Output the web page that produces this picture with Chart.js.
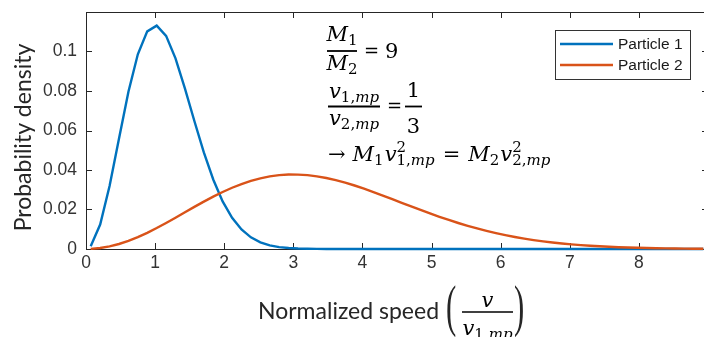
<!DOCTYPE html>
<html>
<head>
<meta charset="utf-8">
<script src="https://cdn.jsdelivr.net/npm/chart.js@4.4.0/dist/chart.umd.min.js"></script>
<style>
  html, body { margin: 0; padding: 0; overflow: hidden; background: #fff; }
  canvas { display: block; }
</style>
</head>
<body>
<canvas id="speed_chart" width="708" height="337"></canvas>
<script>
// normalized speed v / v1,mp (bin centres)
const speed = [
  0.068, 0.205, 0.341, 0.477, 0.614, 0.75, 0.886, 1.023, 1.159, 1.295,
  1.432, 1.568, 1.705, 1.841, 1.977, 2.114, 2.25, 2.386, 2.523, 2.659,
  2.795, 2.932, 3.068, 3.205, 3.341, 3.477, 3.614, 3.75, 3.886, 4.023,
  4.159, 4.295, 4.432, 4.568, 4.705, 4.841, 4.977, 5.114, 5.25, 5.386,
  5.523, 5.659, 5.795, 5.932, 6.068, 6.205, 6.341, 6.477, 6.614, 6.75,
  6.886, 7.023, 7.159, 7.295, 7.432, 7.568, 7.705, 7.841, 7.977, 8.114,
  8.25, 8.386, 8.523, 8.659, 8.795, 8.932
];
const particle1 = [
  0.00143, 0.0124, 0.0319, 0.0558, 0.0796, 0.0986, 0.1102, 0.1131, 0.1079, 0.0965,
  0.0812, 0.0648, 0.0489, 0.0352, 0.0241, 0.0158, 0.00986, 0.0059, 0.00337, 0.00185,
  0.00097, 0.00049, 0.00024, 0.00011, 0.00005, 0.00002, 0, 0, 0, 0,
  0, 0, 0, 0, 0, 0, 0, 0, 0, 0,
  0, 0, 0, 0, 0, 0, 0, 0, 0, 0,
  0, 0, 0, 0, 0, 0, 0, 0, 0, 0,
  0, 0, 0, 0, 0, 0
];
const particle2 = [
  0.00005, 0.00048, 0.00131, 0.00253, 0.00412, 0.00602, 0.0082, 0.01062, 0.01319, 0.01586,
  0.01861, 0.02133, 0.02399, 0.02651, 0.02886, 0.03101, 0.03288, 0.03448, 0.03579, 0.03676,
  0.03739, 0.0377, 0.03768, 0.0374, 0.0368, 0.03596, 0.03488, 0.0336, 0.03215, 0.03055,
  0.02885, 0.02708, 0.02525, 0.02341, 0.02157, 0.01977, 0.01801, 0.01631, 0.01469, 0.01317,
  0.01173, 0.0104, 0.00917, 0.00804, 0.00702, 0.00609, 0.00526, 0.00452, 0.00386, 0.00329,
  0.00278, 0.00234, 0.00197, 0.00164, 0.00136, 0.00112, 0.00092, 0.00076, 0.00062, 0.0005,
  0.0004, 0.00032, 0.00026, 0.00021, 0.00016, 0.00013
];
const seriesNames = ['Particle 1', 'Particle 2'];
const seriesColors = ['#0072BD', '#D95319'];

const AXIS = '#262626';
const TICK_FONT = '"Liberation Sans", Arial, sans-serif';
const TITLE_FONT = 'Lato, "Open Sans", sans-serif';
const MATH_FONT = '"DejaVu Serif", "Liberation Serif", serif';

Chart.defaults.font.family = TICK_FONT;
Chart.defaults.font.size = 17.5;
Chart.defaults.color = '#333';

function toPoints(ys) {
  return speed.map((v, i) => ({ x: v, y: ys[i] }));
}

// little helpers for the math text
// styles: i / r = italic / roman, si / sr = subscript, pr = superscript (no advance), e = equals sign
function mfont(st) {
  if (st === 'e') return '18px ' + MATH_FONT;
  const small = st[0] === 's' || st[0] === 'p';
  const it = st.endsWith('i');
  return (it ? 'italic ' : '') + (small ? 15 : 21) + 'px ' + MATH_FONT;
}
function run(ctx, parts, x, y, draw) {
  let cx = x;
  for (const [t, st] of parts) {
    if (st === 'g') { cx += t; continue; }
    ctx.font = mfont(st);
    const w = ctx.measureText(t).width;
    const dy = st[0] === 's' ? 4 : st[0] === 'p' ? -9 : st === 'e' ? -1 : 0;
    if (draw) ctx.fillText(t, cx, y + dy);
    if (st[0] !== 'p') cx += w;
  }
  return cx - x;
}
function centred(ctx, parts, cx, y) {
  const w = run(ctx, parts, 0, 0, false);
  run(ctx, parts, cx - w / 2, y, true);
}
function bar(ctx, x0, x1, y) {
  ctx.beginPath();
  ctx.moveTo(x0, y);
  ctx.lineTo(x1, y);
  ctx.stroke();
}
const sub1mp = [['1,', 'sr'], ['mp', 'si']];
const sub2mp = [['2,', 'sr'], ['mp', 'si']];

const framePlugin = {
  id: 'frame',
  beforeDatasetsDraw(chart) {
    const { ctx, chartArea: a, scales: { x, y } } = chart;
    ctx.save();
    ctx.strokeStyle = AXIS;
    ctx.lineWidth = 1;
    ctx.beginPath();
    x.ticks.forEach(t => {
      const px = Math.round(x.getPixelForValue(t.value)) + 0.5;
      ctx.moveTo(px, a.bottom); ctx.lineTo(px, a.bottom - 6);
      ctx.moveTo(px, a.top); ctx.lineTo(px, a.top + 6);
    });
    y.ticks.forEach(t => {
      const py = Math.round(y.getPixelForValue(t.value)) + 0.5;
      ctx.moveTo(a.left, py); ctx.lineTo(a.left + 6, py);
      ctx.moveTo(a.right, py); ctx.lineTo(a.right - 6, py);
    });
    ctx.stroke();
    ctx.strokeRect(a.left + 0.5, a.top + 0.5, a.right - a.left - 1, a.bottom - a.top);
    ctx.restore();
  }
};

const textPlugin = {
  id: 'texts',
  afterDraw(chart) {
    const ctx = chart.ctx;
    ctx.save();

    // legend
    ctx.fillStyle = '#fff';
    ctx.fillRect(555, 30, 135, 49);
    ctx.strokeStyle = '#333';
    ctx.lineWidth = 1;
    ctx.strokeRect(555.5, 30.5, 135, 49);
    chart.data.datasets.forEach((ds, i) => {
      const ly = 44 + i * 21;
      ctx.strokeStyle = ds.borderColor;
      ctx.lineWidth = 2.5;
      bar(ctx, 560, 613, ly);
      ctx.fillStyle = '#1a1a1a';
      ctx.font = '15.5px ' + TICK_FONT;
      ctx.textBaseline = 'middle';
      ctx.fillText(ds.label, 618, ly + 1);
    });

    // equations
    ctx.textBaseline = 'alphabetic';
    ctx.fillStyle = '#000';
    ctx.strokeStyle = '#000';
    ctx.lineWidth = 1.8;
    bar(ctx, 327, 357, 51);
    centred(ctx, [['M', 'i'], ['1', 'sr']], 342, 41);
    centred(ctx, [['M', 'i'], ['2', 'sr']], 342, 70);
    run(ctx, [['=', 'e']], 364, 57.5, true);
    run(ctx, [['9', 'r']], 385, 57.5, true);

    bar(ctx, 328, 380, 106.5);
    centred(ctx, [['v', 'i']].concat(sub1mp), 354, 98);
    centred(ctx, [['v', 'i']].concat(sub2mp), 354, 125);
    run(ctx, [['=', 'e']], 387, 113, true);
    bar(ctx, 405, 422, 106.5);
    centred(ctx, [['1', 'r']], 413.5, 97);
    centred(ctx, [['3', 'r']], 413.5, 133);

    run(ctx, [['\u2192', 'r'], [7, 'g'], ['M', 'i'], ['1', 'sr'], [1, 'g'], ['v', 'i'], ['2', 'pr']]
      .concat(sub1mp, [[8, 'g'], ['=', 'r'], [8, 'g'], ['M', 'i'], ['2', 'sr'], [1, 'g'], ['v', 'i'], ['2', 'pr']], sub2mp),
      328, 161, true);

    // x axis title
    ctx.fillStyle = AXIS;
    ctx.font = '23px ' + TITLE_FONT;
    ctx.fillText('Normalized speed', 258, 319);
    ctx.save();
    ctx.font = '56px "Liberation Serif", serif';
    ctx.translate(446, 325);
    ctx.scale(0.55, 1);
    ctx.fillText('(', 0, 0);
    ctx.restore();
    ctx.save();
    ctx.font = '56px "Liberation Serif", serif';
    ctx.translate(514, 325);
    ctx.scale(0.55, 1);
    ctx.fillText(')', 0, 0);
    ctx.restore();
    ctx.fillStyle = '#000';
    ctx.lineWidth = 1.6;
    bar(ctx, 462, 513, 312);
    centred(ctx, [['v', 'i']], 487.5, 307);
    centred(ctx, [['v', 'i']].concat(sub1mp), 487.5, 335);

    // y axis title
    ctx.fillStyle = AXIS;
    ctx.font = '23px ' + TITLE_FONT;
    ctx.translate(31, 137.5);
    ctx.rotate(-Math.PI / 2);
    ctx.textAlign = 'center';
    ctx.fillText('Probability density', 0, 0);

    ctx.restore();
  }
};

new Chart(document.getElementById('speed_chart'), {
  type: 'line',
  data: {
    datasets: [
      {
        label: seriesNames[0],
        data: toPoints(particle1),
        borderColor: seriesColors[0],
        borderWidth: 2.4,
        pointRadius: 0,
        tension: 0,
        fill: false,
        clip: false,
        order: 1
      },
      {
        label: seriesNames[1],
        data: toPoints(particle2),
        borderColor: seriesColors[1],
        borderWidth: 2.4,
        pointRadius: 0,
        tension: 0,
        fill: false,
        clip: false,
        order: 0
      }
    ]
  },
  options: {
    responsive: false,
    animation: false,
    devicePixelRatio: 1,
    layout: { padding: { top: 12, right: 0, left: 0, bottom: 0 } },
    plugins: { legend: { display: false }, tooltip: { enabled: false } },
    scales: {
      x: {
        type: 'linear',
        min: 0,
        max: 9,
        grid: { display: false, drawTicks: false },
        border: { display: false },
        ticks: {
          stepSize: 1,
          autoSkip: false,
          maxRotation: 0,
          padding: 4,
          color: '#333',
          font: { family: TICK_FONT, size: 17.5 }
        },
        afterFit(s) { s.height = 88; s.paddingLeft = 0; s.paddingRight = 0; }
      },
      y: {
        min: 0,
        max: 0.12,
        grid: { display: false, drawTicks: false },
        border: { display: false },
        ticks: {
          stepSize: 0.02,
          padding: 9,
          color: '#333',
          font: { family: TICK_FONT, size: 17.5 },
          callback: v => (v > 0.11 ? '' : String(+v.toFixed(2)))
        },
        afterFit(s) { s.width = 86; s.paddingTop = 0; s.paddingBottom = 0; }
      }
    }
  },
  plugins: [framePlugin, textPlugin]
});
</script>
</body>
</html>
